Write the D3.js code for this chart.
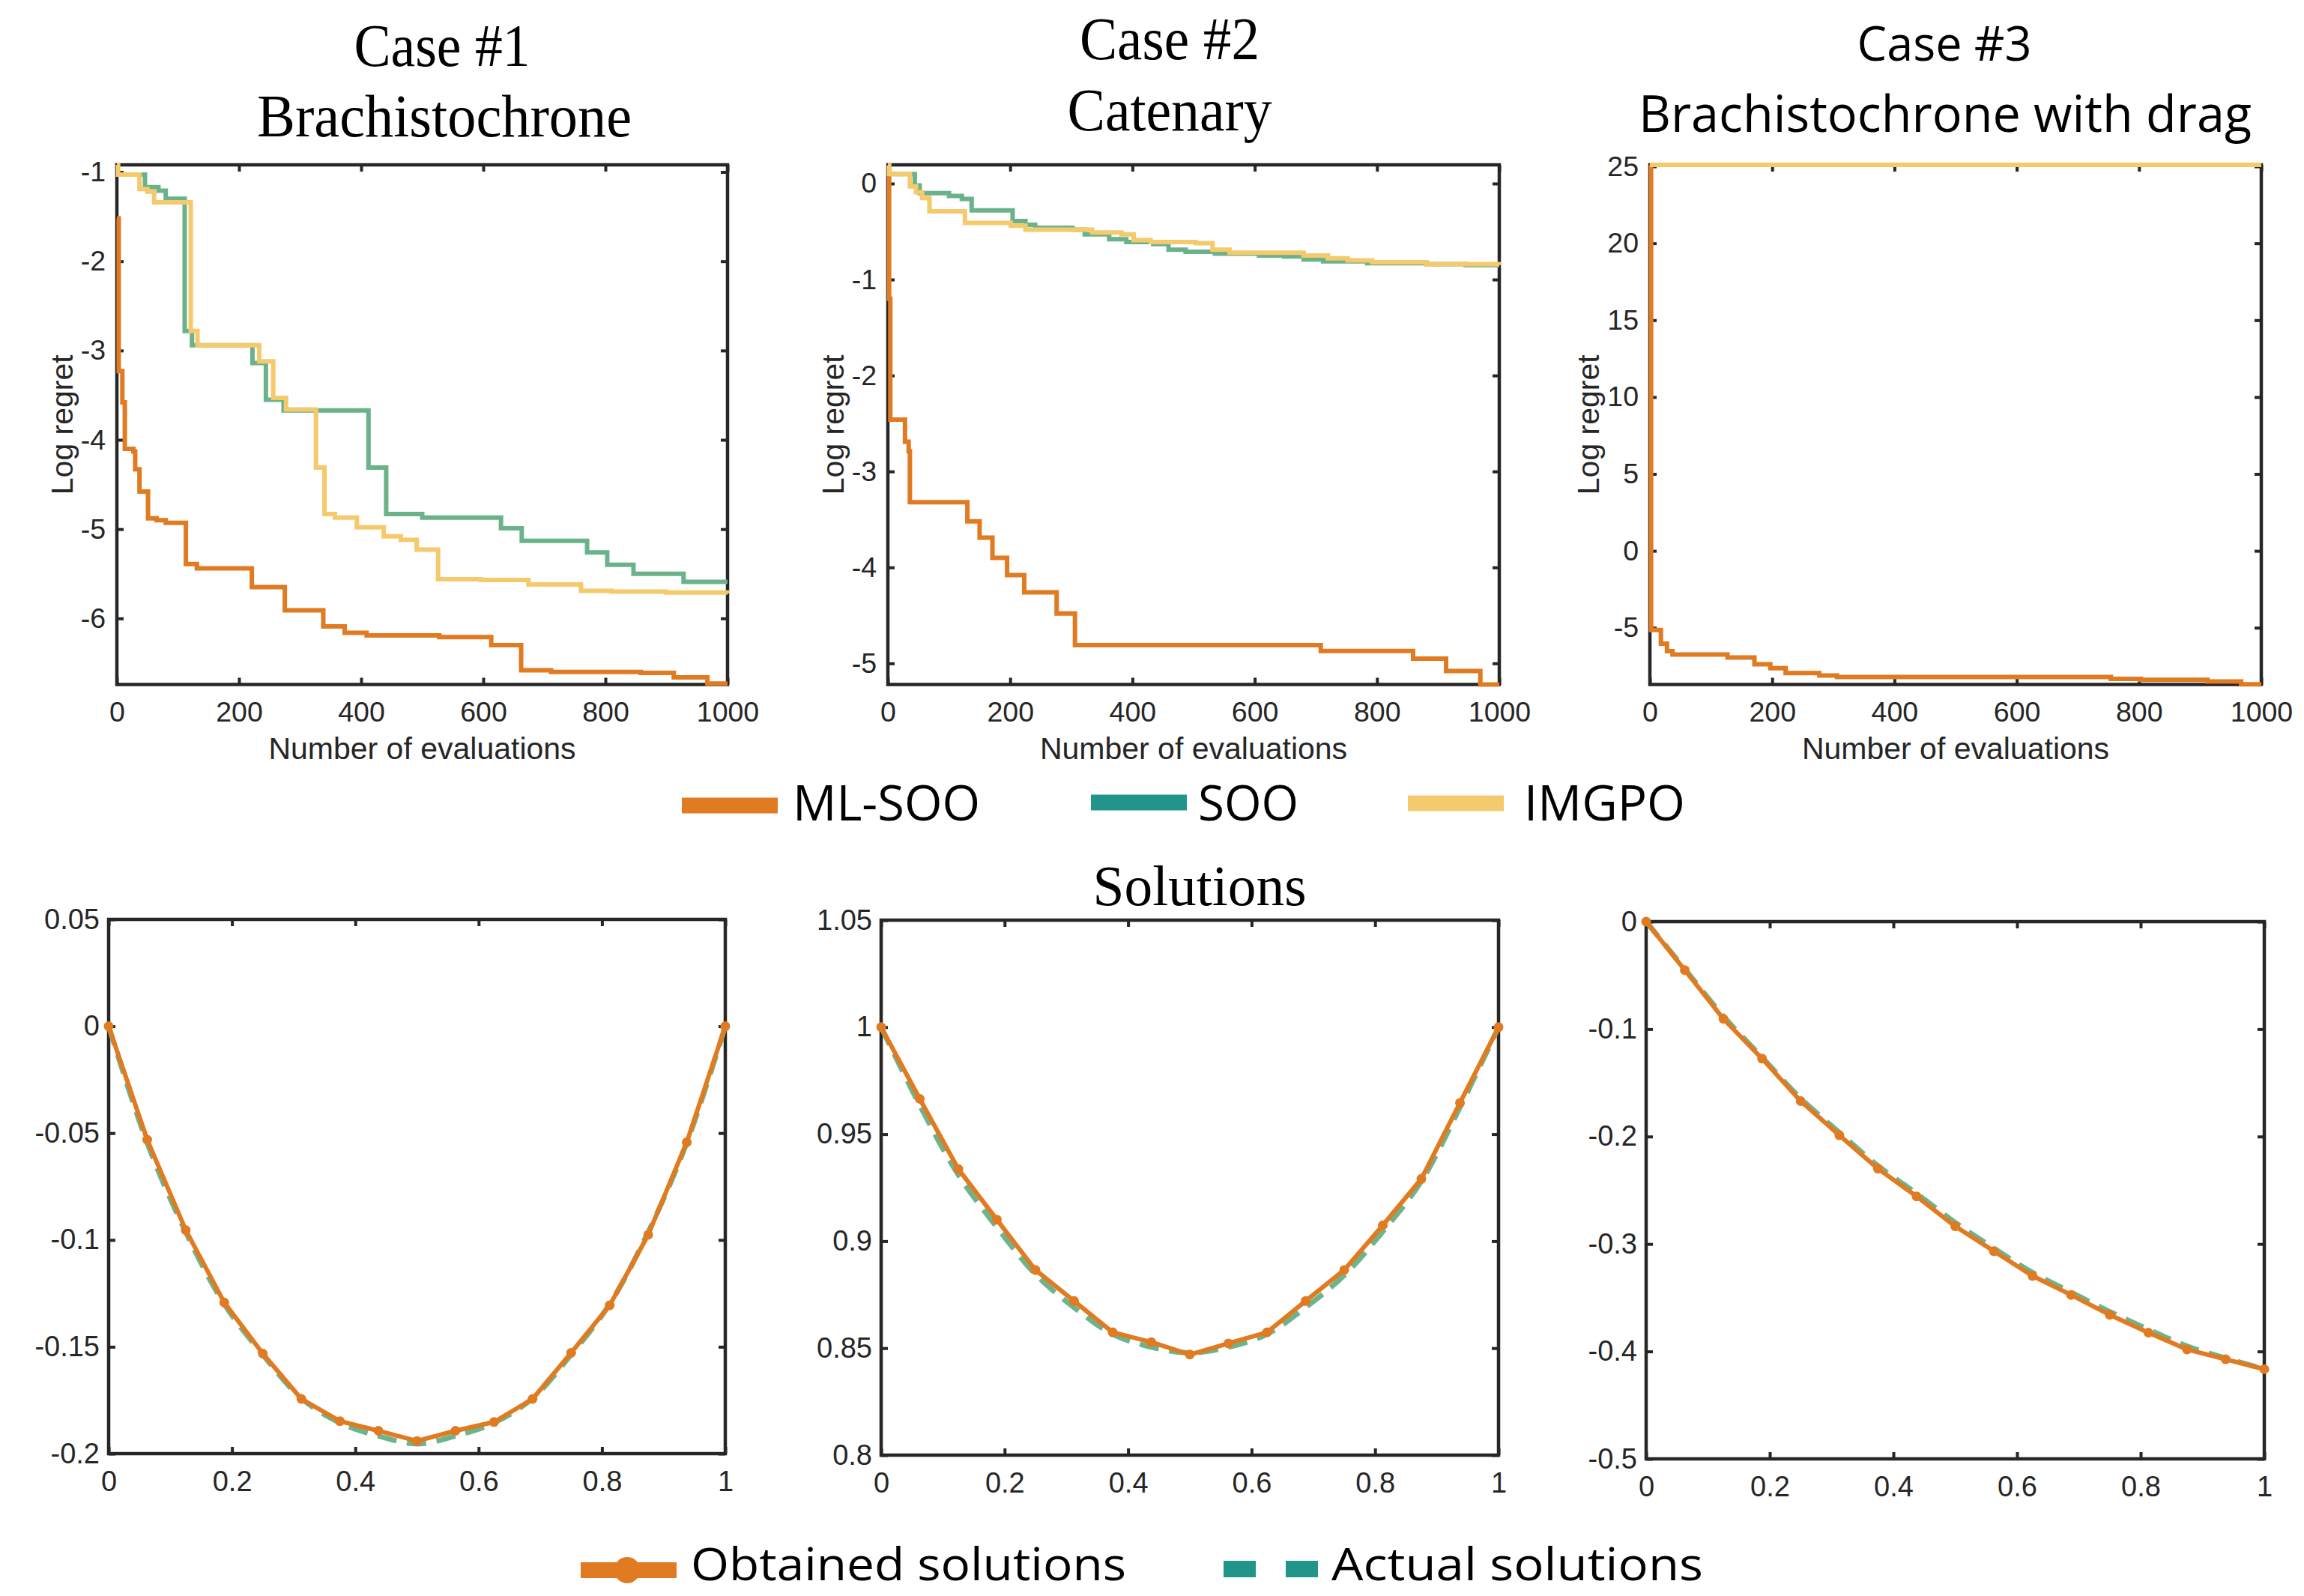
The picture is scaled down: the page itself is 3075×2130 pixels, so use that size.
<!DOCTYPE html>
<html><head><meta charset="utf-8">
<script src="https://cdn.jsdelivr.net/npm/d3@7"></script>
<style>body{margin:0;background:#fff}svg{display:block}</style>
</head><body>
<svg id="c" width="3075" height="2130"></svg>
<script>
// ---------------- DATA ----------------
const evalTicks = [0, 200, 400, 600, 800, 1000];
const case1Ticks = [-6, -5, -4, -3, -2, -1];
const case2Ticks = [-5, -4, -3, -2, -1, 0];
const case3Ticks = [-5, 0, 5, 10, 15, 20, 25];
const case1Domain = [-6.74, -0.92];
const case2Domain = [-5.22, 0.195];
const case3Domain = [-8.69, 25.1];

const case1_mlsoo = [[0,-1.52],[3,-3.23],[9,-3.58],[13,-4.10],[27,-4.13],[30,-4.33],[37,-4.58],[51,-4.88],[65,-4.90],[80,-4.93],[113,-5.39],[131,-5.44],[221,-5.65],[275,-5.91],[338,-6.09],[373,-6.16],[409,-6.19],[528,-6.21],[613,-6.30],[662,-6.58],[711,-6.60],[858,-6.61],[912,-6.66],[967,-6.73],[1000,-6.73]];
const case1_soo = [[0,-1.03],[46,-1.17],[68,-1.21],[80,-1.30],[111,-2.78],[123,-2.94],[222,-3.14],[244,-3.55],[273,-3.67],[412,-4.31],[441,-4.83],[500,-4.87],[629,-4.99],[663,-5.13],[770,-5.26],[803,-5.40],[846,-5.50],[928,-5.59],[1000,-5.59]];
const case1_imgpo = [[0,-0.92],[2,-1.03],[37,-1.19],[50,-1.22],[61,-1.34],[121,-2.78],[132,-2.94],[233,-3.12],[256,-3.53],[277,-3.66],[326,-4.31],[340,-4.83],[357,-4.87],[393,-4.98],[437,-5.08],[465,-5.12],[491,-5.23],[526,-5.56],[596,-5.57],[674,-5.62],[760,-5.69],[810,-5.70],[899,-5.71],[1000,-5.72]];

const case2_mlsoo = [[0,0.19],[2,-1.2],[4,-2.46],[28,-2.69],[34,-2.79],[36,-3.32],[130,-3.52],[150,-3.69],[171,-3.90],[195,-4.08],[223,-4.26],[276,-4.48],[306,-4.81],[708,-4.87],[859,-4.95],[913,-5.08],[969,-5.22],[1000,-5.22]];
const case2_soo = [[0,0.10],[44,-0.02],[52,-0.10],[100,-0.13],[121,-0.16],[137,-0.28],[204,-0.39],[225,-0.43],[241,-0.46],[302,-0.48],[322,-0.53],[362,-0.58],[390,-0.61],[434,-0.63],[459,-0.69],[487,-0.71],[535,-0.73],[607,-0.75],[648,-0.76],[680,-0.79],[712,-0.81],[784,-0.83],[881,-0.84],[945,-0.85],[1000,-0.85]];
const case2_imgpo = [[0,0.19],[2,0.10],[36,-0.03],[46,-0.09],[56,-0.15],[68,-0.29],[126,-0.41],[201,-0.44],[225,-0.48],[334,-0.51],[382,-0.53],[402,-0.59],[430,-0.61],[503,-0.62],[531,-0.69],[559,-0.72],[680,-0.75],[720,-0.78],[752,-0.80],[792,-0.82],[881,-0.84],[1000,-0.85]];

const case3_mlsoo = [[0,25.1],[2,-5.15],[18,-6.04],[28,-6.52],[37,-6.74],[127,-6.93],[171,-7.37],[197,-7.63],[222,-7.95],[277,-8.11],[306,-8.20],[754,-8.33],[803,-8.39],[912,-8.49],[967,-8.68],[1000,-8.68]];
const case3_soo = [[0,25.1],[1000,25.1]];
const case3_imgpo = [[0,25.1],[1000,25.1]];

const solX = [0,0.0625,0.125,0.1875,0.25,0.3125,0.375,0.4375,0.5,0.5625,0.625,0.6875,0.75,0.8125,0.875,0.9375,1];
const solXTicks = [0, 0.2, 0.4, 0.6, 0.8, 1];
const sol1Ticks = [-0.2, -0.15, -0.1, -0.05, 0, 0.05];
const sol2Ticks = [0.8, 0.85, 0.9, 0.95, 1, 1.05];
const sol3Ticks = [-0.5, -0.4, -0.3, -0.2, -0.1, 0];
const case1Obtained = [0,-0.0531,-0.0954,-0.1293,-0.1532,-0.1744,-0.1848,-0.1893,-0.1941,-0.1893,-0.1852,-0.1744,-0.1528,-0.1306,-0.0976,-0.0543,0];
const case1Actual   = [0,-0.0546,-0.0963,-0.1300,-0.1537,-0.1741,-0.1856,-0.1917,-0.1954,-0.1917,-0.1856,-0.1741,-0.1537,-0.1300,-0.0963,-0.0546,0];
const case2Obtained = [1.0,0.9665,0.9337,0.9100,0.8865,0.8720,0.8574,0.8528,0.8470,0.8522,0.8574,0.8720,0.8865,0.9074,0.9291,0.9646,1.0];
const case2Actual   = [1.0,0.9635,0.9310,0.9065,0.8845,0.8690,0.8565,0.8505,0.8478,0.8505,0.8565,0.8690,0.8840,0.9045,0.9280,0.9625,1.0];
const case3Obtained = [0,-0.0451,-0.0905,-0.1275,-0.1670,-0.1988,-0.2299,-0.2557,-0.2835,-0.3067,-0.3297,-0.3474,-0.3659,-0.3825,-0.3981,-0.4073,-0.4165];
const case3Actual   = [0,-0.0440,-0.0880,-0.1262,-0.1645,-0.1962,-0.2272,-0.2530,-0.2800,-0.3040,-0.3265,-0.3450,-0.3630,-0.3795,-0.3950,-0.4062,-0.4165];

const methodNames = ['ML-SOO', 'SOO', 'IMGPO'];
const solutionNames = ['Obtained solutions', 'Actual solutions'];

// ---------------- STYLE ----------------
const AX = '#262626';
const C_ORANGE = '#E07B22', C_GREEN = '#6AB38A', C_YELLOW = '#F4CA6C';
const C_TEAL = '#21958A', C_DASH = '#6DB48C', C_LEG_YELLOW = '#F3CB6E';
const SERIF = '"Liberation Serif","Times New Roman",serif';
const SANS = '"Liberation Sans",Arial,sans-serif';
const CAL = '"Open Sans","Noto Sans",sans-serif';
const TICK = 9;

const svg = d3.select('#c');
svg.append('rect').attr('width',3075).attr('height',2130).attr('fill','#fff');

function frame(g, x, y, xt, yt, fs, xpad, ypad) {
  const [x0, x1] = x.range();
  const [yb, yt0] = y.range();
  const fmt = d => String(d);
  const style = sel => {
    sel.select('.domain').remove();
    sel.selectAll('.tick line').attr('stroke', AX).attr('stroke-width', 4);
    sel.selectAll('.tick text').attr('fill', AX).style('font-family', SANS).style('font-size', fs + 'px');
  };
  g.append('g').attr('transform', `translate(0,${yb})`)
    .call(d3.axisBottom(x).tickValues(xt).tickSizeInner(-TICK).tickSizeOuter(0).tickPadding(xpad).tickFormat(fmt)).call(style);
  g.append('g').attr('transform', `translate(0,${yt0})`)
    .call(d3.axisTop(x).tickValues(xt).tickSizeInner(-TICK).tickSizeOuter(0).tickFormat('')).call(style);
  g.append('g').attr('transform', `translate(${x0},0)`)
    .call(d3.axisLeft(y).tickValues(yt).tickSizeInner(-TICK).tickSizeOuter(0).tickPadding(ypad).tickFormat(fmt)).call(style);
  g.append('g').attr('transform', `translate(${x1},0)`)
    .call(d3.axisRight(y).tickValues(yt).tickSizeInner(-TICK).tickSizeOuter(0).tickFormat('')).call(style);
  g.append('rect').attr('x', x0).attr('y', yt0).attr('width', x1 - x0).attr('height', yb - yt0)
    .attr('fill', 'none').attr('stroke', AX).attr('stroke-width', 4.5);
}

function regretPanel(p) {
  const g = svg.append('g');
  const x = d3.scaleLinear().domain([0, 1000]).range([p.x0, p.x1]);
  const y = d3.scaleLinear().domain(p.domain).range([p.y1, p.y0]);
  frame(g, x, y, evalTicks, p.ticks, 37.5, 23, 15);
  const line = d3.line().x(d => x(d[0])).y(d => y(d[1])).curve(d3.curveStepAfter);
  p.series.forEach(s => {
    g.append('path').datum(s.data).attr('d', line).attr('fill', 'none')
      .attr('stroke', s.color).attr('stroke-width', 6).attr('stroke-linejoin', 'miter');
  });
  g.append('text').attr('x', (p.x0 + p.x1) / 2).attr('y', 1013).attr('text-anchor', 'middle')
    .style('font-family', SANS).style('font-size', '41px').attr('fill', AX).text('Number of evaluations');
  g.append('text').attr('transform', `translate(${p.ylx},${(p.y0 + p.y1) / 2}) rotate(-90)`)
    .attr('text-anchor', 'middle').style('font-family', SANS).style('font-size', '41px').attr('fill', AX).text('Log regret');
}

function solutionPanel(p) {
  const g = svg.append('g');
  const x = d3.scaleLinear().domain([0, 1]).range([p.x0, p.x1]);
  const y = d3.scaleLinear().domain([p.ticks[0], p.ticks[p.ticks.length - 1]]).range([p.y1, p.y0]);
  frame(g, x, y, solXTicks, p.ticks, 38, 23, 12);
  const dl = d3.line().x((d, i) => x(solX[i])).y(d => y(d)).curve(d3.curveCatmullRom);
  g.append('path').datum(p.actual).attr('d', dl).attr('fill', 'none')
    .attr('stroke', C_DASH).attr('stroke-width', 7).attr('stroke-dasharray', '26,14');
  const ol = d3.line().x((d, i) => x(solX[i])).y(d => y(d));
  g.append('path').datum(p.obtained).attr('d', ol).attr('fill', 'none')
    .attr('stroke', C_ORANGE).attr('stroke-width', 6).attr('stroke-linejoin', 'round');
  g.selectAll('circle.m').data(p.obtained).enter().append('circle')
    .attr('cx', (d, i) => x(solX[i])).attr('cy', d => y(d)).attr('r', 6.5).attr('fill', C_ORANGE);
}

regretPanel({x0:156, x1:971, y0:220, y1:913.5, domain:case1Domain, ticks:case1Ticks, ylx:97,
  series:[{data:case1_mlsoo,color:C_ORANGE},{data:case1_soo,color:C_GREEN},{data:case1_imgpo,color:C_YELLOW}]});
regretPanel({x0:1185, x1:2001, y0:220, y1:913.5, domain:case2Domain, ticks:case2Ticks, ylx:1126,
  series:[{data:case2_mlsoo,color:C_ORANGE},{data:case2_soo,color:C_GREEN},{data:case2_imgpo,color:C_YELLOW}]});
regretPanel({x0:2202, x1:3018, y0:220, y1:913.5, domain:case3Domain, ticks:case3Ticks, ylx:2134,
  series:[{data:case3_mlsoo,color:C_ORANGE},{data:case3_soo,color:C_GREEN},{data:case3_imgpo,color:C_YELLOW}]});

solutionPanel({x0:145, x1:968, y0:1227, y1:1940, ticks:sol1Ticks, obtained:case1Obtained, actual:case1Actual});
solutionPanel({x0:1176, x1:2000, y0:1228, y1:1942, ticks:sol2Ticks, obtained:case2Obtained, actual:case2Actual});
solutionPanel({x0:2197, x1:3022, y0:1230, y1:1947, ticks:sol3Ticks, obtained:case3Obtained, actual:case3Actual});

// ---------------- TITLES ----------------
function txt(x, y, s, font, size, len) {
  const t = svg.append('text').attr('x', x).attr('y', y).attr('text-anchor', 'middle')
    .style('font-family', font).style('font-size', size + 'px').attr('fill', '#000').text(s);
  if (len) t.attr('textLength', len).attr('lengthAdjust', 'spacingAndGlyphs');
  return t;
}
txt(590, 88, 'Case #1', SERIF, 80, 235);
txt(593, 182, 'Brachistochrone', SERIF, 80, 500);
txt(1561, 79, 'Case #2', SERIF, 80, 240);
txt(1561, 174, 'Catenary', SERIF, 80, 273);
txt(2595, 81, 'Case #3', CAL, 64, 233);
txt(2596, 176, 'Brachistochrone with drag', CAL, 68, 818);
txt(1601, 1208, 'Solutions', SERIF, 77, 285);

// ---------------- LEGENDS ----------------
const legTop = [
  {name: methodNames[0], color: C_ORANGE, sx: 910, sy: 1075, tx: 1058, tl: 250},
  {name: methodNames[1], color: C_TEAL, sx: 1456, sy: 1071, tx: 1599, tl: 134},
  {name: methodNames[2], color: C_LEG_YELLOW, sx: 1879, sy: 1072, tx: 2034, tl: 215}
];
legTop.forEach(l => {
  svg.append('line').attr('x1', l.sx).attr('x2', l.sx + 128).attr('y1', l.sy).attr('y2', l.sy)
    .attr('stroke', l.color).attr('stroke-width', 21);
  svg.append('text').attr('x', l.tx).attr('y', 1095).style('font-family', CAL).style('font-size', '66px')
    .attr('textLength', l.tl).attr('lengthAdjust', 'spacingAndGlyphs').text(l.name);
});
svg.append('line').attr('x1', 775).attr('x2', 903).attr('y1', 2095.5).attr('y2', 2095.5)
  .attr('stroke', C_ORANGE).attr('stroke-width', 21);
svg.append('circle').attr('cx', 837).attr('cy', 2095.5).attr('r', 17.5).attr('fill', C_ORANGE);
svg.append('text').attr('x', 922).attr('y', 2109).style('font-family', CAL).style('font-size', '61px')
  .attr('textLength', 581).attr('lengthAdjust', 'spacingAndGlyphs').text(solutionNames[0]);
svg.append('line').attr('x1', 1633).attr('x2', 1760).attr('y1', 2094).attr('y2', 2094)
  .attr('stroke', C_TEAL).attr('stroke-width', 22).attr('stroke-dasharray', '43,40');
svg.append('text').attr('x', 1777).attr('y', 2109).style('font-family', CAL).style('font-size', '61px')
  .attr('textLength', 496).attr('lengthAdjust', 'spacingAndGlyphs').text(solutionNames[1]);
</script>
</body></html>
